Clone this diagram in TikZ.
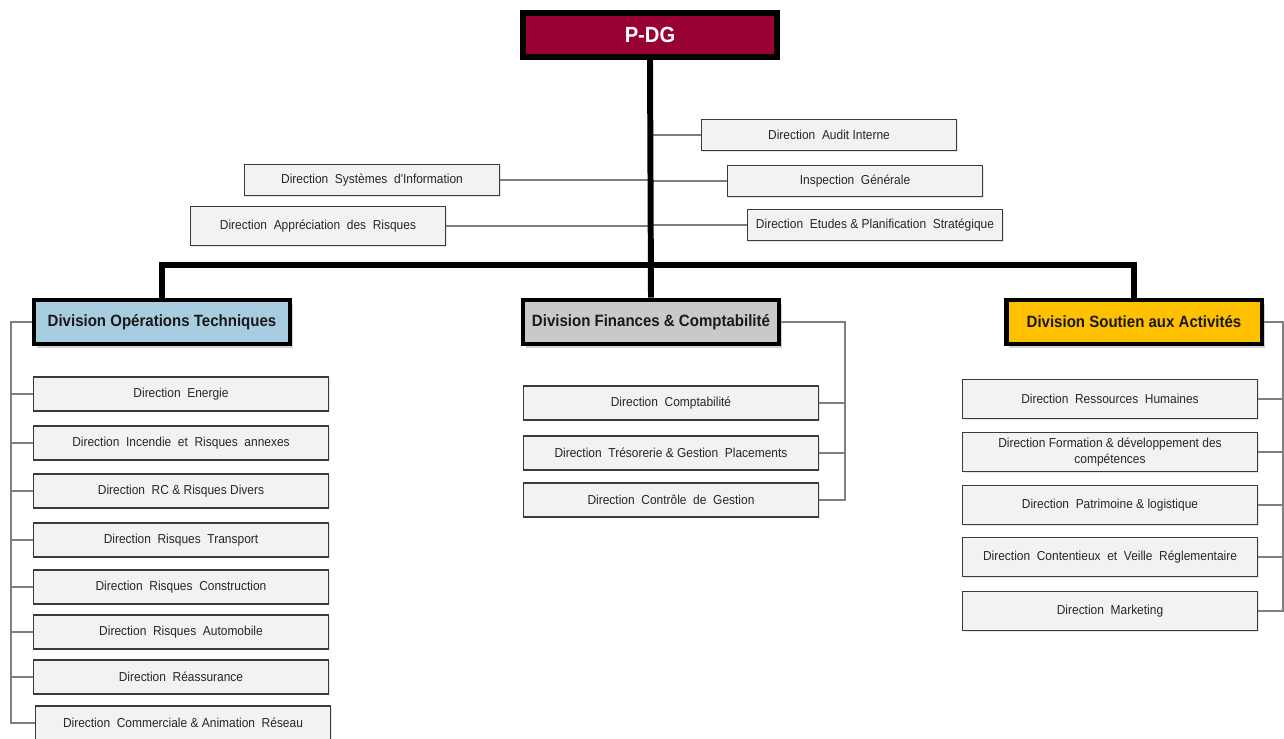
\documentclass[tikz,border=0pt]{standalone}
\usepackage{fontspec}
\usepackage{tikz}
\usetikzlibrary{shadows}
\newfontfamily\orgfont[FakeStretch=0.92]{Liberation Sans}
\definecolor{pdgred}{HTML}{990033}
\definecolor{techblue}{HTML}{A9CDE0}
\definecolor{fingray}{HTML}{C9C9C9}
\definecolor{soutienor}{HTML}{FFC000}
\definecolor{boxfill}{HTML}{F2F2F2}
\definecolor{boxline}{HTML}{3A3A3A}
\definecolor{linkgray}{HTML}{7F7F7F}
\tikzset{
  pdgbox/.style={draw=black,line width=3.4pt,fill=pdgred,text=white,
    font=\orgfont\bfseries\fontsize{12.5}{14}\selectfont,
    minimum width=5.08cm,minimum height=0.88cm,inner sep=0pt},
  divbox/.style={draw=black,line width=2.8pt,text=black!90,
    font=\orgfont\bfseries\fontsize{9.3}{10.5}\selectfont,
    minimum width=5.12cm,minimum height=0.88cm,inner sep=0pt,
    drop shadow={shadow xshift=1.5pt,shadow yshift=-2pt,opacity=0.35}},
  dirbox/.style={draw=boxline,line width=0.8pt,fill=boxfill,text=black!85,
    font=\orgfont\fontsize{7.4}{9.5}\selectfont,align=center,
    minimum width=5.9cm,minimum height=0.68cm,inner sep=1pt,
    drop shadow={shadow xshift=0.6pt,shadow yshift=-0.8pt,opacity=0.2}},
  staffbox/.style={dirbox,minimum width=5.11cm,minimum height=0.62cm},
  trunk/.style={line width=3.4pt,black},
  link/.style={line width=0.6pt,linkgray}
}
\begin{document}
\begin{tikzpicture}[x=0.02cm,y=-0.02cm]
\useasboundingbox (0,0) rectangle (1284,739);
% direction generale
\node[pdgbox] (pdg) at (650,35) {P-DG};
% directions rattachees
\node[staffbox] (dai) at (829,135) {Direction\ \ Audit Interne};
\node[staffbox] (igen) at (855,181) {Inspection\ \ G\'en\'erale};
\node[staffbox] (deps) at (875,225) {Direction\ \ Etudes \& Planification\ \ Strat\'egique};
\node[staffbox] (dsi) at (372,180) {Direction\ \ Syst\`emes\ \ d'Information};
\node[staffbox,minimum height=0.78cm] (dar) at (318,226) {Direction\ \ Appr\'eciation\ \ des\ \ Risques};
% divisions
\node[divbox,fill=techblue] (dot) at (162,322) {Division Op\'erations Techniques};
\node[divbox,fill=fingray] (dfc) at (651,322) {Division Finances \& Comptabilit\'e};
\node[divbox,fill=soutienor] (dsa) at (1134,322) {Division Soutien aux Activit\'es};
% division operations techniques
\node[dirbox] (ot1) at (181,394) {Direction\ \ Energie};
\node[dirbox] (ot2) at (181,443) {Direction\ \ Incendie\ \ et\ \ Risques\ \ annexes};
\node[dirbox] (ot3) at (181,491) {Direction\ \ RC \& Risques Divers};
\node[dirbox] (ot4) at (181,540) {Direction\ \ Risques\ \ Transport};
\node[dirbox] (ot5) at (181,587) {Direction\ \ Risques\ \ Construction};
\node[dirbox] (ot6) at (181,632) {Direction\ \ Risques\ \ Automobile};
\node[dirbox] (ot7) at (181,677) {Direction\ \ R\'eassurance};
\node[dirbox] (ot8) at (183,723) {Direction\ \ Commerciale \& Animation\ \ R\'eseau};
% division finances
\node[dirbox] (fc1) at (671,403) {Direction\ \ Comptabilit\'e};
\node[dirbox] (fc2) at (671,453) {Direction\ \ Tr\'esorerie \& Gestion\ \ Placements};
\node[dirbox] (fc3) at (671,500) {Direction\ \ Contr\^ole\ \ de\ \ Gestion};
% division soutien
\node[dirbox,minimum height=0.78cm] (sa1) at (1110,399) {Direction\ \ Ressources\ \ Humaines};
\node[dirbox,minimum height=0.78cm] (sa2) at (1110,452) {Direction Formation \& d\'eveloppement des\\comp\'etences};
\node[dirbox,minimum height=0.78cm] (sa3) at (1110,505) {Direction\ \ Patrimoine \& logistique};
\node[dirbox,minimum height=0.78cm] (sa4) at (1110,557) {Direction\ \ Contentieux\ \ et\ \ Veille\ \ R\'eglementaire};
\node[dirbox,minimum height=0.78cm] (sa5) at (1110,611) {Direction\ \ Marketing};
% liaisons
\coordinate (bus) at (0,265);
\coordinate (lbus) at (11,0);
\coordinate (mbus) at (845,0);
\coordinate (rbus) at (1283,0);
\foreach \n in {dai,igen,deps,dsi,dar}
  \draw[link] (\n) -- (\n -| pdg.south);
\draw[link] (dot.west) -| (lbus |- ot8.west) -- (ot8.west);
\foreach \n in {ot1,ot2,ot3,ot4,ot5,ot6,ot7}
  \draw[link] (\n.west) -- (lbus |- \n.west);
\draw[link] (dfc.east) -| (mbus |- fc3.east) -- (fc3.east);
\foreach \n in {fc1,fc2}
  \draw[link] (\n.east) -- (mbus |- \n.east);
\draw[link] (dsa.east) -| (rbus |- sa5.east) -- (sa5.east);
\foreach \n in {sa1,sa2,sa3,sa4}
  \draw[link] (\n.east) -- (rbus |- \n.east);
\draw[trunk] (pdg.south) -- (dfc.north);
\draw[trunk] (dot.north) |- (dsa.north |- bus) -- (dsa.north);
\end{tikzpicture}
\end{document}
